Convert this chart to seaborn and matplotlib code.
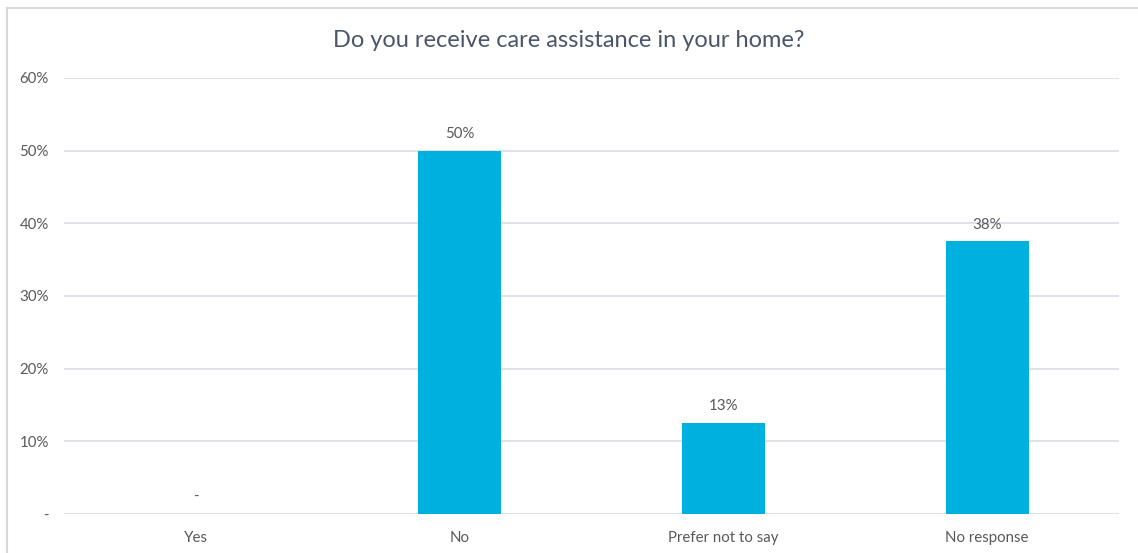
import math
import matplotlib
matplotlib.use("Agg")
import matplotlib.pyplot as plt
from matplotlib.patches import Rectangle
import seaborn as sns
import pandas as pd

categories = ["Yes", "No", "Prefer not to say", "No response"]
shares = [0.0, 50.0, 12.5, 37.5]
y_ticks = [0, 10, 20, 30, 40, 50, 60]
y_tick_labels = ["-", "10%", "20%", "30%", "40%", "50%", "60%"]
title = "Do you receive care assistance in your home?"

BAR = "#00B0DE"
TEXT = "#595959"
TITLE = "#4A5668"
GRID = "#D9DDE5"

sns.set_theme(style="white")
plt.rcParams["font.family"] = ["Lato", "DejaVu Sans"]

df = pd.DataFrame({"category": categories, "share": shares})

fig = plt.figure(figsize=(11.38, 5.53), dpi=100)
ax = fig.add_axes([0.0562, 0.0705, 0.9271, 0.7885])

sns.barplot(data=df, x="category", y="share", color=BAR, width=0.315,
            saturation=1, linewidth=0, ax=ax, zorder=3)

ax.set_ylim(0, 60)
ax.set_yticks(y_ticks)
ax.set_yticklabels(y_tick_labels)
ax.set_xlim(-0.5, len(categories) - 0.5)
ax.grid(axis="y", color=GRID, linewidth=1.2, zorder=0)
ax.grid(axis="x", visible=False)
for s in ax.spines.values():
    s.set_visible(False)
ax.set_xlabel("")
ax.set_ylabel("")
ax.tick_params(axis="both", length=0, colors=TEXT, labelsize=10.8)
ax.tick_params(axis="y", pad=11)
ax.tick_params(axis="x", pad=12)


def fmt(v):
    if v == 0:
        return "-"
    return f"{int(math.floor(v + 0.5))}%"


for i, v in enumerate(shares):
    ax.annotate(fmt(v), (i, v), xytext=(0, 7), textcoords="offset points",
                ha="center", va="bottom", color=TEXT, fontsize=10.8)

fig.text(0.5, 0.927, title, ha="center", va="center", color=TITLE, fontsize=17)

# chart-area frame
fig.patches.append(Rectangle((7 / 1138, -0.1), 1.2, 1 - 8 / 553 + 0.1,
                             transform=fig.transFigure, fill=False,
                             edgecolor="#D9D9D9", linewidth=1.5))

fig.savefig("out.png", dpi=100)
